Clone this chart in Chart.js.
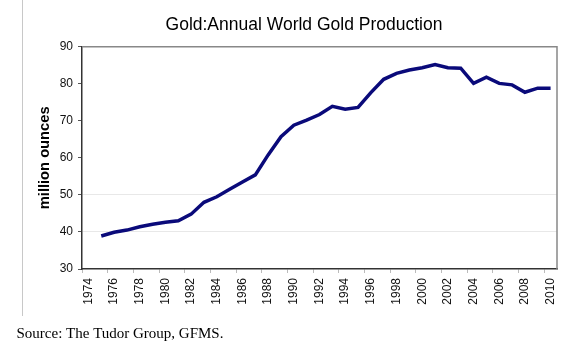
<!DOCTYPE html>
<html>
<head>
<meta charset="utf-8">
<script src="https://cdn.jsdelivr.net/npm/chart.js@4.4.1/dist/chart.umd.min.js"></script>
<style>
  html, body { margin: 0; padding: 0; background: #ffffff; }
  #wrap { width: 581px; height: 355px; position: relative; }
</style>
</head>
<body>
<div id="wrap"><canvas id="c" width="581" height="355"></canvas></div>
<script>
const chartTitle = 'Gold:Annual World Gold Production';
const sourceNote = 'Source: The Tudor Group, GFMS.';
const yAxisTitle = 'million ounces';

const years = ['1974','1975','1976','1977','1978','1979','1980','1981','1982','1983',
  '1984','1985','1986','1987','1988','1989','1990','1991','1992','1993',
  '1994','1995','1996','1997','1998','1999','2000','2001','2002','2003',
  '2004','2005','2006','2007','2008','2009','2010'];

const production = [null, 38.9, 39.9, 40.5, 41.4, 42.1, 42.6, 43.0, 44.8, 48.0,
  49.5, 51.5, 53.5, 55.4, 60.8, 65.7, 68.8, 70.2, 71.7, 73.9,
  73.1, 73.6, 77.6, 81.2, 82.8, 83.7, 84.3, 85.2, 84.3, 84.2,
  80.1, 81.8, 80.1, 79.7, 77.7, 78.8, 78.8];

const yTicks = [30, 40, 50, 60, 70, 80, 90];
const gridValues = [40, 50];

const decor = {
  id: 'decor',
  beforeDatasetsDraw(chart) {
    const { ctx, chartArea: a } = chart;
    ctx.save();
    ctx.strokeStyle = '#888888';
    ctx.lineWidth = 1.5;
    ctx.beginPath();
    ctx.moveTo(a.left, a.top);
    ctx.lineTo(a.right, a.top);
    ctx.lineTo(a.right, a.bottom);
    ctx.stroke();
    ctx.restore();
  },
  afterDraw(chart) {
    const { ctx } = chart;
    ctx.save();
    ctx.strokeStyle = '#c8c8c8';
    ctx.lineWidth = 1;
    ctx.beginPath();
    ctx.moveTo(22.5, 0);
    ctx.lineTo(22.5, 316);
    ctx.stroke();
    ctx.fillStyle = '#000000';
    ctx.textAlign = 'center';
    ctx.textBaseline = 'alphabetic';
    ctx.font = '17.5px "Liberation Sans", Arial, sans-serif';
    ctx.fillText(chartTitle, 304, 30);
    ctx.textAlign = 'left';
    ctx.font = '15px "Liberation Serif", "Times New Roman", serif';
    ctx.fillText(sourceNote, 16.5, 338);
    ctx.restore();
  }
};

new Chart(document.getElementById('c'), {
  type: 'line',
  data: {
    labels: years,
    datasets: [{
      data: production,
      borderColor: '#0a0a7a',
      borderWidth: 3.5,
      pointRadius: 0,
      tension: 0,
      fill: false,
      spanGaps: false
    }]
  },
  options: {
    responsive: false,
    animation: false,
    devicePixelRatio: 1,
    layout: { padding: { left: 0, top: 46.7, right: 24, bottom: 0 } },
    plugins: {
      legend: { display: false },
      title: { display: false },
      tooltip: { enabled: false }
    },
    scales: {
      x: {
        type: 'category',
        offset: true,
        afterFit(s) { s.height = 86; },
        grid: {
          offset: true,
          drawOnChartArea: false,
          drawTicks: true,
          tickLength: 4,
          tickColor: (c) => (c.index % 2 === 0 ? '#bbbbbb' : 'rgba(0,0,0,0)'),
          color: 'rgba(0,0,0,0)'
        },
        border: { display: true, color: '#333333', width: 1.5 },
        ticks: {
          autoSkip: false,
          maxRotation: 90,
          minRotation: 90,
          padding: 5,
          color: '#111111',
          font: { family: '"Liberation Sans", Arial, sans-serif', size: 12 },
          callback(v, i) { return i % 2 === 0 ? years[i] : ''; }
        }
      },
      y: {
        min: 30,
        max: 90,
        afterFit(s) { s.width = 82; },
        afterBuildTicks(s) { s.ticks = yTicks.map(v => ({ value: v })); },
        grid: {
          drawTicks: true,
          tickLength: 4,
          tickColor: '#555555',
          color: (c) => (gridValues.includes(c.tick && c.tick.value) ? '#e8e8e8' : 'rgba(0,0,0,0)'),
          lineWidth: 1
        },
        border: { display: true, color: '#333333', width: 1.5 },
        ticks: {
          padding: 5,
          color: '#111111',
          font: { family: '"Liberation Sans", Arial, sans-serif', size: 12 }
        },
        title: {
          display: true,
          text: yAxisTitle,
          color: '#000000',
          font: { family: '"Liberation Sans", Arial, sans-serif', size: 14.7, weight: 'bold' },
          padding: { top: 36, bottom: 0 }
        }
      }
    }
  },
  plugins: [decor]
});
</script>
</body>
</html>
